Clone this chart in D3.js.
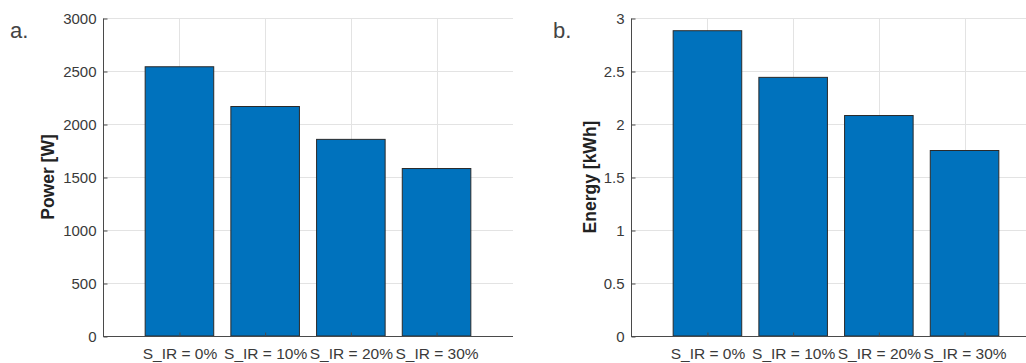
<!DOCTYPE html>
<html>
<head>
<meta charset="utf-8">
<script src="https://cdn.jsdelivr.net/npm/d3@7"></script>
<style>
  html, body { margin: 0; padding: 0; background: #fff; }
  svg { display: block; }
  text { font-family: "Liberation Sans", Arial, Helvetica, sans-serif; }
</style>
</head>
<body>
<svg id="chart" width="1026" height="363"></svg>
<script>
// ---- data ----
const categories = ["S_IR = 0%", "S_IR = 10%", "S_IR = 20%", "S_IR = 30%"];
const powerW = [2540, 2165, 1855, 1580];
const energyKWh = [2.88, 2.44, 2.08, 1.75];
const powerTicks = [0, 500, 1000, 1500, 2000, 2500, 3000];
const energyTicks = [0, 0.5, 1, 1.5, 2, 2.5, 3];
const panelLetters = ["a.", "b."];
const yTitles = ["Power [W]", "Energy [kWh]"];

// ---- layout ----
const svg = d3.select("#chart");
const plotTop = 18, plotBottom = 336, plotW = 410;
const panels = [
  { x0: 103, values: powerW, ticks: powerTicks, max: 3000, title: yTitles[0], letter: panelLetters[0], letterX: 10, titleX: 48 },
  { x0: 631, values: energyKWh, ticks: energyTicks, max: 3, title: yTitles[1], letter: panelLetters[1], letterX: 553, titleX: 590 }
];
const axisColor = "#4a4a4a";
const textColor = "#3a3a3a";
const gridColor = "#e3e3e3";
const barColor = "#0072BD";

panels.forEach(p => {
  const g = svg.append("g");
  const x = d3.scalePoint().domain(categories).range([p.x0, p.x0 + plotW]).padding(0.892);
  const y = d3.scaleLinear().domain([0, p.max]).range([plotBottom, plotTop]);
  const bw = x.step() * 0.8;

  // grid
  g.append("g").selectAll("line").data(p.ticks).join("line")
    .attr("x1", p.x0).attr("x2", p.x0 + plotW)
    .attr("y1", d => y(d) + 0.5).attr("y2", d => y(d) + 0.5)
    .attr("stroke", gridColor).attr("stroke-width", 1);
  g.append("g").selectAll("line").data(categories).join("line")
    .attr("x1", d => Math.round(x(d)) + 0.5).attr("x2", d => Math.round(x(d)) + 0.5)
    .attr("y1", plotTop).attr("y2", plotBottom)
    .attr("stroke", gridColor).attr("stroke-width", 1);

  // bars
  g.append("g").selectAll("rect").data(p.values).join("rect")
    .attr("x", (d, i) => x(categories[i]) - bw / 2)
    .attr("y", d => y(d))
    .attr("width", bw)
    .attr("height", d => plotBottom - y(d))
    .attr("fill", barColor)
    .attr("stroke", "#2a2a2a")
    .attr("stroke-width", 1);

  // y axis
  const yAxis = d3.axisLeft(y).tickValues(p.ticks).tickSize(-4).tickPadding(7)
    .tickFormat(d3.format("~g"));
  const ya = g.append("g").attr("transform", `translate(${p.x0 + 0.5},0.5)`).call(yAxis);
  ya.select(".domain").attr("stroke", axisColor).attr("d", `M0,${plotTop}V${plotBottom}`);
  ya.selectAll(".tick line").attr("stroke", axisColor);
  ya.selectAll(".tick text").attr("fill", textColor).style("font-size", "15px")
    .style("font-family", '"Liberation Sans", Arial, sans-serif');

  // x axis
  const xAxis = d3.axisBottom(x).tickSize(-4).tickPadding(11);
  const xa = g.append("g").attr("transform", `translate(0,${plotBottom + 0.5})`).call(xAxis);
  xa.select(".domain").attr("stroke", axisColor).attr("d", `M${p.x0},0H${p.x0 + plotW}`);
  xa.selectAll(".tick line").attr("stroke", axisColor);
  xa.selectAll(".tick text").attr("fill", textColor).style("font-size", "15.5px")
    .style("font-family", '"Liberation Sans", Arial, sans-serif');

  // y title
  g.append("text")
    .attr("transform", `translate(${p.titleX},${(plotTop + plotBottom) / 2}) rotate(-90)`)
    .attr("text-anchor", "middle").attr("dy", "0.35em")
    .attr("fill", "#222").style("font-size", "17.5px").style("font-weight", "bold")
    .text(p.title);

  // panel letter
  g.append("text").attr("x", p.letterX).attr("y", 38)
    .attr("fill", "#444").style("font-size", "22px")
    .text(p.letter);
});
</script>
</body>
</html>
